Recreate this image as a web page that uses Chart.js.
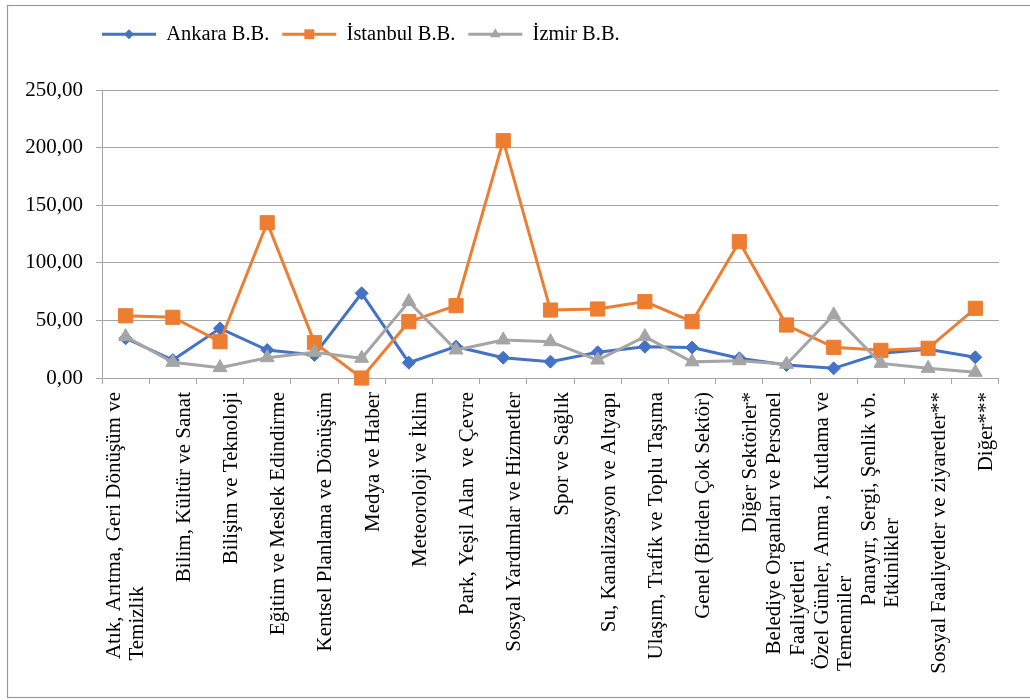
<!DOCTYPE html>
<html lang="tr">
<head>
    <meta charset="UTF-8">
    <title>Büyükşehir Belediyeleri - Sektörlere Göre</title>
    <style>
        html, body { margin: 0; padding: 0; background: #fff; }
        #kutu { width: 1030px; height: 700px; }
    </style>
</head>
<body>

    <div id="kutu">
        <canvas id="grafik" width="1030" height="700"></canvas>
    </div>

    <script src="https://cdn.jsdelivr.net/npm/chart.js"></script>
    <script>
        // Veriler
        const kategoriler = [
            ['Atık, Arıtma, Geri Dönüşüm ve', 'Temizlik'],
            'Bilim, Kültür ve Sanat',
            'Bilişim ve Teknoloji',
            'Eğitim ve Meslek Edindirme',
            'Kentsel Planlama ve Dönüşüm',
            'Medya ve Haber',
            'Meteoroloji ve İklim',
            'Park, Yeşil Alan  ve Çevre',
            'Sosyal Yardımlar ve Hizmetler',
            'Spor ve Sağlık',
            'Su, Kanalizasyon ve Altyapı',
            'Ulaşım, Trafik ve Toplu Taşıma',
            'Genel (Birden Çok Sektör)',
            'Diğer Sektörler*',
            ['Belediye Organları ve Personel', 'Faaliyetleri'],
            ['Özel Günler, Anma , Kutlama ve', 'Temenniler'],
            ['Panayır, Sergi, Şenlik vb.', 'Etkinlikler'],
            'Sosyal Faaliyetler ve ziyaretler**',
            'Diğer***'
        ];
        const seriAdlari = ['Ankara B.B.', 'İstanbul B.B.', 'İzmir B.B.'];
        const ankara   = [34.5, 15.6, 43.1, 24.3, 20.0, 73.5, 13.3, 27.2, 17.6, 14.2, 22.3, 27.2, 26.5, 17.1, 11.3, 8.4, 21.4, 24.9, 18.0];
        const istanbul = [54.0, 52.7, 31.5, 134.8, 30.7, 0.0, 48.9, 62.8, 206.0, 59.0, 59.9, 66.3, 48.9, 118.3, 46.0, 26.6, 24.0, 25.8, 60.5];
        const izmir    = [35.9, 13.6, 9.0, 17.6, 22.3, 17.1, 66.3, 24.3, 33.0, 31.5, 15.6, 35.9, 14.0, 15.0, 11.9, 54.7, 12.7, 8.4, 4.9];
        const yTikleri = [0, 50, 100, 150, 200, 250];

        const MAVI = '#4472C4';
        const TURUNCU = '#ED7D31';
        const GRI = '#A5A5A5';
        const IZGARA = '#A6A6A6';
        const YAZI = '"Liberation Serif", "Times New Roman", serif';
        const ETIKET_PX = 21;
        const SATIR = 1.1;

        Chart.defaults.font.family = YAZI;
        Chart.defaults.color = '#000';

        // ikinci satir Excel'deki gibi ilk satirla ayni yerden baslasin diye bosluk ekleniyor
        function etiketSatirlari(ctx, lab) {
            if (!Array.isArray(lab)) return ['', lab];
            ctx.save();
            ctx.font = ETIKET_PX + 'px ' + YAZI;
            const w0 = ctx.measureText(lab[0]).width;
            let ikinci = lab[1];
            const bosluk = ctx.measureText(' ').width;
            const n = Math.round((w0 - ctx.measureText(ikinci).width) / bosluk);
            ctx.restore();
            if (n > 0) ikinci = ikinci + ' '.repeat(n);
            return [lab[0], ikinci];
        }

        // cerceve
        const cerceve = {
            id: 'cerceve',
            beforeDraw(chart) {
                const c = chart.ctx;
                c.save();
                c.fillStyle = '#fff';
                c.fillRect(0, 0, chart.width, chart.height);
                c.strokeStyle = '#9a9a9a';
                c.lineWidth = 1.2;
                c.strokeRect(7.5, 5.5, chart.width, chart.height - 8);
                c.restore();
            }
        };

        // lejant: konum ayari + isaretler
        const LEJANT_UST = 11;
        const lejant = {
            id: 'lejant',
            beforeLayout(chart) {
                const lg = chart.legend;
                if (lg && !lg._yamali) {
                    const fit = lg.fit;
                    lg.fit = function () {
                        fit.call(this);
                        this.height = 90 - LEJANT_UST;
                    };
                    lg._yamali = true;
                }
            },
            afterLayout(chart) {
                const lg = chart.legend;
                if (!lg) return;
                const w = lg.width;
                lg.left = chart.chartArea.left - 13;
                lg.right = lg.left + w;
            },
            afterDraw(chart) {
                const lg = chart.legend;
                if (!lg || !lg.legendHitBoxes || !Chart.helpers || !Chart.helpers.drawPoint) return;
                const c = chart.ctx;
                const boyut = { rectRot: 5, rect: 7, triangle: 6 };
                lg.legendItems.forEach((it, i) => {
                    const hb = lg.legendHitBoxes[i];
                    const ds = chart.data.datasets[it.datasetIndex];
                    c.save();
                    c.fillStyle = ds.borderColor;
                    c.strokeStyle = ds.borderColor;
                    Chart.helpers.drawPoint(c, {
                        pointStyle: ds.pointStyle,
                        rotation: 0,
                        radius: boyut[ds.pointStyle],
                        borderWidth: 0
                    }, hb.left + lg.options.labels.boxWidth / 2, hb.top + hb.height / 2);
                    c.restore();
                });
            }
        };

        const ctx = document.getElementById('grafik').getContext('2d');
        new Chart(ctx, {
            type: 'line',
            data: {
                labels: kategoriler,
                datasets: [
                    {
                        label: seriAdlari[0], data: ankara,
                        borderColor: MAVI, backgroundColor: MAVI, borderWidth: 3,
                        pointStyle: 'rectRot', pointRadius: 6.5, pointBorderWidth: 1,
                        pointBackgroundColor: MAVI, pointBorderColor: MAVI,
                        tension: 0, clip: false, order: 2
                    },
                    {
                        label: seriAdlari[1], data: istanbul,
                        borderColor: TURUNCU, backgroundColor: TURUNCU, borderWidth: 3,
                        pointStyle: 'rect', pointRadius: 10, pointBorderWidth: 1,
                        pointBackgroundColor: TURUNCU, pointBorderColor: TURUNCU,
                        tension: 0, clip: false, order: 1
                    },
                    {
                        label: seriAdlari[2], data: izmir,
                        borderColor: GRI, backgroundColor: GRI, borderWidth: 3,
                        pointStyle: 'triangle', pointRadius: 8, pointBorderWidth: 1,
                        pointBackgroundColor: GRI, pointBorderColor: GRI,
                        tension: 0, clip: false, order: 0
                    }
                ]
            },
            options: {
                responsive: false,
                devicePixelRatio: 1,
                animation: false,
                layout: { padding: { top: LEJANT_UST, left: 0, right: 18, bottom: 0 } },
                plugins: {
                    tooltip: { enabled: false },
                    legend: {
                        position: 'top',
                        align: 'start',
                        labels: {
                            font: { size: 20.5 },
                            color: '#000',
                            boxWidth: 54,
                            boxHeight: 3,
                            padding: 13,
                            generateLabels(chart) {
                                const items = Chart.defaults.plugins.legend.labels.generateLabels(chart);
                                items.forEach(it => { it.lineWidth = 0; });
                                return items.sort((a, b) => a.datasetIndex - b.datasetIndex);
                            }
                        }
                    }
                },
                scales: {
                    x: {
                        offset: true,
                        grid: { offset: true, drawOnChartArea: false, drawTicks: true, tickLength: 6, color: IZGARA },
                        border: { display: true, color: IZGARA, width: 1 },
                        ticks: {
                            autoSkip: false,
                            minRotation: 90,
                            maxRotation: 90,
                            padding: 8,
                            labelOffset: -(ETIKET_PX * SATIR) / 2,
                            font: { size: ETIKET_PX, lineHeight: SATIR },
                            color: '#000',
                            callback: function (value, index) {
                                return etiketSatirlari(this.ctx, kategoriler[index]);
                            }
                        },
                        afterFit(s) { s.height = 700 - 378; }
                    },
                    y: {
                        min: 0,
                        max: 250,
                        grid: { color: IZGARA, lineWidth: 1, drawTicks: true, tickLength: 6 },
                        border: { display: true, color: IZGARA, width: 1 },
                        ticks: {
                            padding: 13,
                            color: '#000',
                            font: { size: ETIKET_PX },
                            callback: v => v.toFixed(2).replace('.', ',')
                        },
                        afterBuildTicks(s) { s.ticks = yTikleri.map(v => ({ value: v })); },
                        afterFit(s) { s.width = 102; }
                    }
                }
            },
            plugins: [cerceve, lejant]
        });
    </script>

</body>
</html>
